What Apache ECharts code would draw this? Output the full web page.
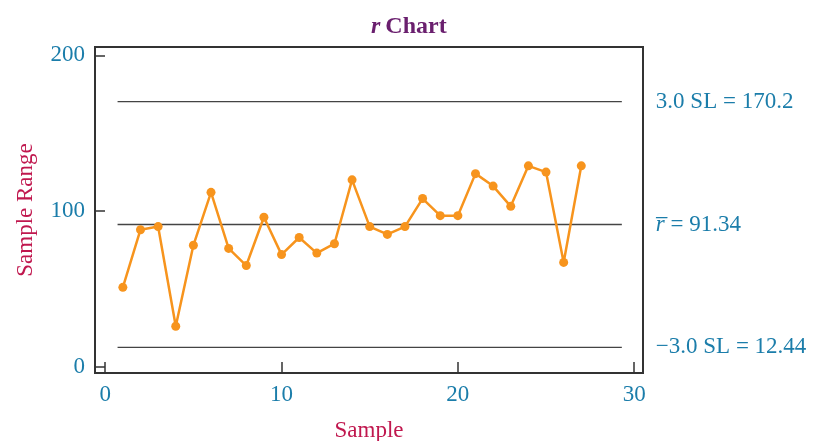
<!DOCTYPE html>
<html>
<head>
<meta charset="utf-8">
<script src="https://cdn.jsdelivr.net/npm/echarts@6/dist/echarts.min.js"></script>
<style>
  html, body { margin: 0; padding: 0; background: #fff; }
  #chart { width: 827px; height: 441px; }
</style>
</head>
<body>
<div id="chart"></div>
<script>
// ===== 数据 =====
const samples = [1, 2, 3, 4, 5, 6, 7, 8, 9, 10, 11, 12, 13, 14, 15, 16, 17, 18, 19, 20, 21, 22, 23, 24, 25, 26, 27];
const ranges = [51, 88, 90, 26, 78, 112, 76, 65, 96, 72, 83, 73, 79, 120, 90, 85, 90, 108, 97, 97, 124, 116, 103, 129, 125, 67, 129];
const limitValues = [170.2, 91.34, 12.44];
const limitLabels = ['3.0 SL = 170.2', '{it|r\u0305}{n| = 91.34}', '\u22123.0 SL = 12.44'];
const limitSpan = [0.7, 29.3];
const xTicks = [0, 10, 20, 30];
const yTicks = [0, 100, 200];

// ===== 颜色 =====
const COLORS = {
    orange: '#F7941D',
    blue: '#1B7DAA',
    title: '#6A1F6E',
    axisName: '#C0174E',
    frame: '#333333',
    limit: '#444444'
};
const FONT = 'Liberation Serif';
const FS = 23;

const chart = echarts.init(document.getElementById('chart'));

// 控制线 (每条线两个端点, 末端标签)
const limitSeries = limitValues.map((v, i) => ({
    type: 'line',
    data: [[limitSpan[0], v], [limitSpan[1], v]],
    symbol: 'none',
    silent: true,
    lineStyle: { color: COLORS.limit, width: 1.4 },
    endLabel: {
        show: true,
        distance: 34,
        formatter: () => limitLabels[i],
        color: COLORS.blue,
        fontFamily: FONT,
        fontSize: FS,
        rich: {
            it: { fontFamily: FONT, fontSize: FS, fontStyle: 'italic', color: COLORS.blue },
            n: { fontFamily: FONT, fontSize: FS, color: COLORS.blue }
        }
    }
}));

const option = {
    animation: false,
    title: {
        text: '{it|r} {b|Chart}',
        left: 366,
        top: 10,
        textStyle: {
            rich: {
                it: { fontFamily: FONT, fontSize: 24, fontStyle: 'italic', fontWeight: 'bold', color: COLORS.title },
                b: { fontFamily: FONT, fontSize: 24, fontWeight: 'bold', color: COLORS.title }
            }
        }
    },
    grid: {
        left: 95, top: 47, right: 184, bottom: 68,
        containLabel: false,
        outerBoundsMode: 'none',
        show: true,
        borderColor: COLORS.frame,
        borderWidth: 2
    },
    xAxis: {
        type: 'value',
        min: -0.58,
        max: 30.5,
        name: 'Sample',
        nameLocation: 'middle',
        nameGap: 46,
        nameTextStyle: { fontFamily: FONT, fontSize: FS, color: COLORS.axisName },
        axisLine: { show: false, onZero: false },
        splitLine: { show: false },
        axisTick: { show: true, inside: true, length: 11, customValues: xTicks, lineStyle: { color: COLORS.frame, width: 1.5 } },
        axisLabel: { customValues: xTicks, margin: 10, fontFamily: FONT, fontSize: FS, color: COLORS.blue }
    },
    yAxis: {
        type: 'value',
        min: -4,
        max: 205.3,
        name: 'Sample Range',
        nameLocation: 'middle',
        nameGap: 58,
        nameTextStyle: { fontFamily: FONT, fontSize: FS, color: COLORS.axisName },
        axisLine: { show: false, onZero: false },
        splitLine: { show: false },
        axisTick: { show: true, inside: true, length: 10, customValues: yTicks, lineStyle: { color: COLORS.frame, width: 1.5 } },
        axisLabel: { customValues: yTicks, margin: 10, fontFamily: FONT, fontSize: FS, color: COLORS.blue }
    },
    series: [
        ...limitSeries,
        {
            type: 'line',
            data: samples.map((s, i) => [s, ranges[i]]),
            symbol: 'circle',
            symbolSize: 9,
            lineStyle: { color: COLORS.orange, width: 2.5 },
            itemStyle: { color: COLORS.orange }
        }
    ]
};

chart.setOption(option);
</script>
</body>
</html>
